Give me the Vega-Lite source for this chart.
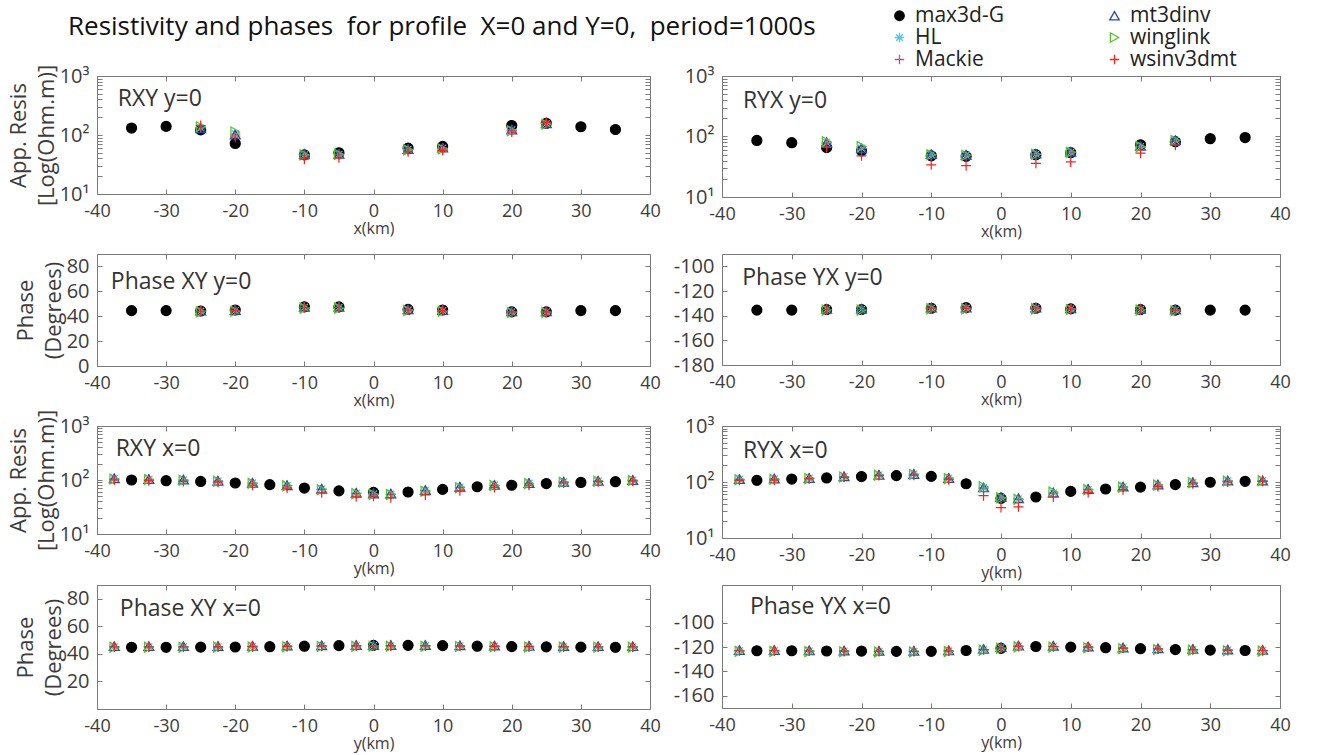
{
"$schema": "https://vega.github.io/schema/vega-lite/v6.json",
"background": "white",
"padding": {"left": 6, "top": 5, "right": 5, "bottom": 5},
"config": {
  "font": "Open Sans",
  "view": {"stroke": "#7a7a7a", "strokeWidth": 1},
  "axis": {"domain": false, "grid": false, "tickColor": "#7a7a7a", "tickSize": -5, "tickWidth": 1, "labelColor": "#3c3c3c", "labelFont": "Open Sans", "labelFontSize": 18, "titleFont": "Open Sans", "titleFontWeight": "normal", "titleColor": "#3c3c3c"},
  "axisX": {"titleFontSize": 16, "titlePadding": 0, "labelFlush": false, "labelPadding": 13},
  "axisY": {"labelFontSize": 20, "titleFontSize": 22, "titleLineHeight": 28, "titlePadding": 1, "labelPadding": 13},
  "legend": {"labelFont": "Open Sans", "labelFontSize": 21, "labelColor": "#222", "symbolSize": 90, "symbolStrokeWidth": 1.3}
},
"datasets": {
 "p1": [
  {"pos": -35, "max3d-G": 131},
  {"pos": -30, "max3d-G": 140},
  {"pos": -25, "max3d-G": 122, "HL": 132, "Mackie": 134, "mt3dinv": 130, "winglink": 138, "wsinv3dmt": 145},
  {"pos": -20, "max3d-G": 72, "HL": 105, "Mackie": 100, "mt3dinv": 102, "winglink": 112, "wsinv3dmt": 92},
  {"pos": -10, "max3d-G": 46, "HL": 46, "Mackie": 45, "mt3dinv": 48, "winglink": 46, "wsinv3dmt": 39},
  {"pos": -5, "max3d-G": 50, "HL": 47, "Mackie": 46, "mt3dinv": 48, "winglink": 47, "wsinv3dmt": 41},
  {"pos": 5, "max3d-G": 60, "HL": 57, "Mackie": 56, "mt3dinv": 58, "winglink": 56, "wsinv3dmt": 52},
  {"pos": 10, "max3d-G": 64, "HL": 60, "Mackie": 58, "mt3dinv": 61, "winglink": 58, "wsinv3dmt": 55},
  {"pos": 20, "max3d-G": 145, "HL": 122, "Mackie": 120, "mt3dinv": 124, "winglink": 118, "wsinv3dmt": 112},
  {"pos": 25, "max3d-G": 158, "HL": 156, "Mackie": 155, "mt3dinv": 157, "winglink": 152, "wsinv3dmt": 164},
  {"pos": 30, "max3d-G": 138},
  {"pos": 35, "max3d-G": 124}
 ],
 "p2": [
  {"pos": -35, "max3d-G": 86},
  {"pos": -30, "max3d-G": 79},
  {"pos": -25, "max3d-G": 66, "HL": 80, "Mackie": 78, "mt3dinv": 80, "winglink": 82, "wsinv3dmt": 66},
  {"pos": -20, "max3d-G": 58, "HL": 64, "Mackie": 63, "mt3dinv": 64, "winglink": 68, "wsinv3dmt": 48},
  {"pos": -10, "max3d-G": 48, "HL": 50, "Mackie": 49, "mt3dinv": 51, "winglink": 50, "wsinv3dmt": 34},
  {"pos": -5, "max3d-G": 47, "HL": 49, "Mackie": 48, "mt3dinv": 50, "winglink": 49, "wsinv3dmt": 33},
  {"pos": 5, "max3d-G": 50, "HL": 51, "Mackie": 50, "mt3dinv": 52, "winglink": 51, "wsinv3dmt": 36},
  {"pos": 10, "max3d-G": 54, "HL": 55, "Mackie": 54, "mt3dinv": 56, "winglink": 55, "wsinv3dmt": 38},
  {"pos": 20, "max3d-G": 73, "HL": 68, "Mackie": 67, "mt3dinv": 70, "winglink": 68, "wsinv3dmt": 53},
  {"pos": 25, "max3d-G": 82, "HL": 86, "Mackie": 85, "mt3dinv": 87, "winglink": 86, "wsinv3dmt": 72},
  {"pos": 30, "max3d-G": 92},
  {"pos": 35, "max3d-G": 96}
 ],
 "p3": [
  {"pos": -35, "max3d-G": 44.5},
  {"pos": -30, "max3d-G": 44.5},
  {"pos": -25, "max3d-G": 44.2, "HL": 44, "Mackie": 44, "mt3dinv": 44.5, "winglink": 43.5, "wsinv3dmt": 44},
  {"pos": -20, "max3d-G": 45, "HL": 44.5, "Mackie": 44.5, "mt3dinv": 45, "winglink": 44, "wsinv3dmt": 44.5},
  {"pos": -10, "max3d-G": 47.5, "HL": 47, "Mackie": 47, "mt3dinv": 47.5, "winglink": 46.5, "wsinv3dmt": 47},
  {"pos": -5, "max3d-G": 47.5, "HL": 47, "Mackie": 47, "mt3dinv": 47.5, "winglink": 46.5, "wsinv3dmt": 47},
  {"pos": 5, "max3d-G": 45.5, "HL": 45, "Mackie": 45, "mt3dinv": 45.5, "winglink": 44.5, "wsinv3dmt": 45},
  {"pos": 10, "max3d-G": 45, "HL": 44.5, "Mackie": 44.5, "mt3dinv": 45, "winglink": 44, "wsinv3dmt": 44.5},
  {"pos": 20, "max3d-G": 43.5, "HL": 43.5, "Mackie": 43.5, "mt3dinv": 44, "winglink": 43, "wsinv3dmt": 43.5},
  {"pos": 25, "max3d-G": 43.5, "HL": 43.5, "Mackie": 43.5, "mt3dinv": 44, "winglink": 43, "wsinv3dmt": 43.5},
  {"pos": 30, "max3d-G": 44.5},
  {"pos": 35, "max3d-G": 44.5}
 ],
 "p4": [
  {"pos": -35, "max3d-G": -135.5},
  {"pos": -30, "max3d-G": -135.5},
  {"pos": -25, "max3d-G": -135, "HL": -135, "Mackie": -135, "mt3dinv": -134.5, "winglink": -135.5, "wsinv3dmt": -135},
  {"pos": -20, "max3d-G": -135, "HL": -135, "Mackie": -135, "mt3dinv": -134.5, "winglink": -135.5, "wsinv3dmt": -135},
  {"pos": -10, "max3d-G": -134, "HL": -134, "Mackie": -134, "mt3dinv": -133.5, "winglink": -134.5, "wsinv3dmt": -134},
  {"pos": -5, "max3d-G": -133.5, "HL": -134, "Mackie": -134, "mt3dinv": -133.5, "winglink": -134.5, "wsinv3dmt": -134},
  {"pos": 5, "max3d-G": -134, "HL": -134, "Mackie": -134, "mt3dinv": -133.5, "winglink": -134.5, "wsinv3dmt": -134},
  {"pos": 10, "max3d-G": -134.5, "HL": -134.5, "Mackie": -134.5, "mt3dinv": -134, "winglink": -135, "wsinv3dmt": -134.5},
  {"pos": 20, "max3d-G": -135, "HL": -135, "Mackie": -135, "mt3dinv": -134.5, "winglink": -135.5, "wsinv3dmt": -135},
  {"pos": 25, "max3d-G": -135.5, "HL": -135.5, "Mackie": -135.5, "mt3dinv": -135, "winglink": -136, "wsinv3dmt": -135.5},
  {"pos": 30, "max3d-G": -135.5},
  {"pos": 35, "max3d-G": -135.5}
 ],
 "p5": [
  {"pos": -37.5, "HL": 106, "Mackie": 104, "mt3dinv": 108, "winglink": 104, "wsinv3dmt": 100},
  {"pos": -35, "max3d-G": 100},
  {"pos": -32.5, "HL": 103, "Mackie": 101, "mt3dinv": 104, "winglink": 102, "wsinv3dmt": 97},
  {"pos": -30, "max3d-G": 97},
  {"pos": -27.5, "HL": 100, "Mackie": 99, "mt3dinv": 102, "winglink": 99, "wsinv3dmt": 94},
  {"pos": -25, "max3d-G": 94},
  {"pos": -22.5, "HL": 96, "Mackie": 95, "mt3dinv": 97, "winglink": 95, "wsinv3dmt": 91},
  {"pos": -20, "max3d-G": 88},
  {"pos": -17.5, "HL": 88, "Mackie": 87, "mt3dinv": 89, "winglink": 87, "wsinv3dmt": 80},
  {"pos": -15, "max3d-G": 82},
  {"pos": -12.5, "HL": 79, "Mackie": 78, "mt3dinv": 80, "winglink": 78, "wsinv3dmt": 71},
  {"pos": -10, "max3d-G": 71},
  {"pos": -7.5, "HL": 68, "Mackie": 67, "mt3dinv": 69, "winglink": 66, "wsinv3dmt": 58},
  {"pos": -5, "max3d-G": 63},
  {"pos": -2.5, "HL": 57, "Mackie": 56, "mt3dinv": 58, "winglink": 56, "wsinv3dmt": 49},
  {"pos": 0, "max3d-G": 59, "HL": 55, "Mackie": 54, "mt3dinv": 56, "winglink": 54, "wsinv3dmt": 50},
  {"pos": 2.5, "HL": 55, "Mackie": 54, "mt3dinv": 56, "winglink": 54, "wsinv3dmt": 47},
  {"pos": 5, "max3d-G": 60},
  {"pos": 7.5, "HL": 64, "Mackie": 63, "mt3dinv": 65, "winglink": 62, "wsinv3dmt": 53},
  {"pos": 10, "max3d-G": 67},
  {"pos": 12.5, "HL": 74, "Mackie": 73, "mt3dinv": 75, "winglink": 72, "wsinv3dmt": 63},
  {"pos": 15, "max3d-G": 75},
  {"pos": 17.5, "HL": 80, "Mackie": 79, "mt3dinv": 81, "winglink": 79, "wsinv3dmt": 73},
  {"pos": 20, "max3d-G": 80},
  {"pos": 22.5, "HL": 87, "Mackie": 86, "mt3dinv": 88, "winglink": 86, "wsinv3dmt": 80},
  {"pos": 25, "max3d-G": 86},
  {"pos": 27.5, "HL": 92, "Mackie": 91, "mt3dinv": 93, "winglink": 91, "wsinv3dmt": 88},
  {"pos": 30, "max3d-G": 90},
  {"pos": 32.5, "HL": 96, "Mackie": 95, "mt3dinv": 97, "winglink": 95, "wsinv3dmt": 93},
  {"pos": 35, "max3d-G": 93},
  {"pos": 37.5, "HL": 99, "Mackie": 98, "mt3dinv": 100, "winglink": 98, "wsinv3dmt": 95}
 ],
 "p6": [
  {"pos": -37.5, "HL": 112, "Mackie": 111, "mt3dinv": 113, "winglink": 110, "wsinv3dmt": 107},
  {"pos": -35, "max3d-G": 107},
  {"pos": -32.5, "HL": 114, "Mackie": 113, "mt3dinv": 115, "winglink": 112, "wsinv3dmt": 108},
  {"pos": -30, "max3d-G": 113},
  {"pos": -27.5, "HL": 117, "Mackie": 116, "mt3dinv": 118, "winglink": 115, "wsinv3dmt": 114},
  {"pos": -25, "max3d-G": 118},
  {"pos": -22.5, "HL": 125, "Mackie": 124, "mt3dinv": 126, "winglink": 123, "wsinv3dmt": 121},
  {"pos": -20, "max3d-G": 125},
  {"pos": -17.5, "HL": 134, "Mackie": 133, "mt3dinv": 135, "winglink": 132, "wsinv3dmt": 130},
  {"pos": -15, "max3d-G": 130},
  {"pos": -12.5, "HL": 138, "Mackie": 137, "mt3dinv": 139, "winglink": 136, "wsinv3dmt": 132},
  {"pos": -10, "max3d-G": 126},
  {"pos": -7.5, "HL": 117, "Mackie": 116, "mt3dinv": 118, "winglink": 115, "wsinv3dmt": 110},
  {"pos": -5, "max3d-G": 93},
  {"pos": -2.5, "HL": 79, "Mackie": 78, "mt3dinv": 80, "winglink": 82, "wsinv3dmt": 57},
  {"pos": 0, "max3d-G": 51, "HL": 53, "Mackie": 52, "mt3dinv": 54, "winglink": 52, "wsinv3dmt": 35},
  {"pos": 2.5, "HL": 50, "Mackie": 49, "mt3dinv": 51, "winglink": 49, "wsinv3dmt": 36},
  {"pos": 5, "max3d-G": 54},
  {"pos": 7.5, "HL": 64, "Mackie": 63, "mt3dinv": 65, "winglink": 66, "wsinv3dmt": 54},
  {"pos": 10, "max3d-G": 68},
  {"pos": 12.5, "HL": 74, "Mackie": 73, "mt3dinv": 75, "winglink": 73, "wsinv3dmt": 65},
  {"pos": 15, "max3d-G": 75},
  {"pos": 17.5, "HL": 82, "Mackie": 81, "mt3dinv": 83, "winglink": 81, "wsinv3dmt": 73},
  {"pos": 20, "max3d-G": 81},
  {"pos": 22.5, "HL": 89, "Mackie": 88, "mt3dinv": 90, "winglink": 88, "wsinv3dmt": 83},
  {"pos": 25, "max3d-G": 90},
  {"pos": 27.5, "HL": 98, "Mackie": 97, "mt3dinv": 99, "winglink": 97, "wsinv3dmt": 93},
  {"pos": 30, "max3d-G": 99},
  {"pos": 32.5, "HL": 105, "Mackie": 104, "mt3dinv": 106, "winglink": 104, "wsinv3dmt": 100},
  {"pos": 35, "max3d-G": 103},
  {"pos": 37.5, "HL": 106, "Mackie": 105, "mt3dinv": 106, "winglink": 105, "wsinv3dmt": 103}
 ],
 "p7": [
  {"pos": -37.5, "HL": 45.2, "Mackie": 45.2, "mt3dinv": 45.6, "winglink": 44.8, "wsinv3dmt": 45},
  {"pos": -35, "max3d-G": 44.8},
  {"pos": -32.5, "HL": 45.2, "Mackie": 45.2, "mt3dinv": 45.6, "winglink": 44.8, "wsinv3dmt": 45},
  {"pos": -30, "max3d-G": 44.8},
  {"pos": -27.5, "HL": 45.2, "Mackie": 45.2, "mt3dinv": 45.6, "winglink": 44.8, "wsinv3dmt": 45},
  {"pos": -25, "max3d-G": 44.9},
  {"pos": -22.5, "HL": 45.3, "Mackie": 45.3, "mt3dinv": 45.7, "winglink": 44.9, "wsinv3dmt": 45.1},
  {"pos": -20, "max3d-G": 45},
  {"pos": -17.5, "HL": 45.4, "Mackie": 45.4, "mt3dinv": 45.8, "winglink": 45, "wsinv3dmt": 45.2},
  {"pos": -15, "max3d-G": 45.2},
  {"pos": -12.5, "HL": 45.6, "Mackie": 45.6, "mt3dinv": 46, "winglink": 45.2, "wsinv3dmt": 45.4},
  {"pos": -10, "max3d-G": 45.6},
  {"pos": -7.5, "HL": 45.8, "Mackie": 45.8, "mt3dinv": 46.2, "winglink": 45.4, "wsinv3dmt": 45.6},
  {"pos": -5, "max3d-G": 46},
  {"pos": -2.5, "HL": 46, "Mackie": 46, "mt3dinv": 46.4, "winglink": 45.6, "wsinv3dmt": 45.8},
  {"pos": 0, "max3d-G": 46.2, "HL": 46, "Mackie": 46, "mt3dinv": 46.4, "winglink": 45.6, "wsinv3dmt": 45.8},
  {"pos": 2.5, "HL": 46, "Mackie": 46, "mt3dinv": 46.4, "winglink": 45.6, "wsinv3dmt": 45.8},
  {"pos": 5, "max3d-G": 46.2},
  {"pos": 7.5, "HL": 46, "Mackie": 46, "mt3dinv": 46.4, "winglink": 45.6, "wsinv3dmt": 45.8},
  {"pos": 10, "max3d-G": 46},
  {"pos": 12.5, "HL": 45.8, "Mackie": 45.8, "mt3dinv": 46.2, "winglink": 45.4, "wsinv3dmt": 45.6},
  {"pos": 15, "max3d-G": 45.6},
  {"pos": 17.5, "HL": 45.6, "Mackie": 45.6, "mt3dinv": 46, "winglink": 45.2, "wsinv3dmt": 45.4},
  {"pos": 20, "max3d-G": 45.3},
  {"pos": 22.5, "HL": 45.4, "Mackie": 45.4, "mt3dinv": 45.8, "winglink": 45, "wsinv3dmt": 45.2},
  {"pos": 25, "max3d-G": 45.1},
  {"pos": 27.5, "HL": 45.3, "Mackie": 45.3, "mt3dinv": 45.7, "winglink": 44.9, "wsinv3dmt": 45.1},
  {"pos": 30, "max3d-G": 44.9},
  {"pos": 32.5, "HL": 45.2, "Mackie": 45.2, "mt3dinv": 45.6, "winglink": 44.8, "wsinv3dmt": 45},
  {"pos": 35, "max3d-G": 44.8},
  {"pos": 37.5, "HL": 45.2, "Mackie": 45.2, "mt3dinv": 45.6, "winglink": 44.8, "wsinv3dmt": 45}
 ],
 "p8": [
  {"pos": -37.5, "HL": -123, "Mackie": -123, "mt3dinv": -122.5, "winglink": -123.5, "wsinv3dmt": -123},
  {"pos": -35, "max3d-G": -123},
  {"pos": -32.5, "HL": -123, "Mackie": -123, "mt3dinv": -122.5, "winglink": -123.5, "wsinv3dmt": -123},
  {"pos": -30, "max3d-G": -123},
  {"pos": -27.5, "HL": -123.2, "Mackie": -123.2, "mt3dinv": -122.7, "winglink": -123.7, "wsinv3dmt": -123.2},
  {"pos": -25, "max3d-G": -123.2},
  {"pos": -22.5, "HL": -123.3, "Mackie": -123.3, "mt3dinv": -122.8, "winglink": -123.8, "wsinv3dmt": -123.3},
  {"pos": -20, "max3d-G": -123.3},
  {"pos": -17.5, "HL": -123.5, "Mackie": -123.5, "mt3dinv": -123, "winglink": -124, "wsinv3dmt": -123.5},
  {"pos": -15, "max3d-G": -123.5},
  {"pos": -12.5, "HL": -123.5, "Mackie": -123.5, "mt3dinv": -123, "winglink": -124, "wsinv3dmt": -123.5},
  {"pos": -10, "max3d-G": -123.5},
  {"pos": -7.5, "HL": -123.2, "Mackie": -123.2, "mt3dinv": -122.7, "winglink": -123.7, "wsinv3dmt": -123.2},
  {"pos": -5, "max3d-G": -122.8},
  {"pos": -2.5, "HL": -122, "Mackie": -122, "mt3dinv": -121.5, "winglink": -122.5, "wsinv3dmt": -122},
  {"pos": 0, "max3d-G": -121, "HL": -120.5, "Mackie": -120.5, "mt3dinv": -120, "winglink": -121, "wsinv3dmt": -120.5},
  {"pos": 2.5, "HL": -119.3, "Mackie": -119.3, "mt3dinv": -118.8, "winglink": -119.8, "wsinv3dmt": -119.3},
  {"pos": 5, "max3d-G": -119.5},
  {"pos": 7.5, "HL": -119.5, "Mackie": -119.5, "mt3dinv": -119, "winglink": -120, "wsinv3dmt": -119.5},
  {"pos": 10, "max3d-G": -120},
  {"pos": 12.5, "HL": -120, "Mackie": -120, "mt3dinv": -119.5, "winglink": -120.5, "wsinv3dmt": -120},
  {"pos": 15, "max3d-G": -120.5},
  {"pos": 17.5, "HL": -120.8, "Mackie": -120.8, "mt3dinv": -120.3, "winglink": -121.3, "wsinv3dmt": -120.8},
  {"pos": 20, "max3d-G": -121.3},
  {"pos": 22.5, "HL": -121.5, "Mackie": -121.5, "mt3dinv": -121, "winglink": -122, "wsinv3dmt": -121.5},
  {"pos": 25, "max3d-G": -122},
  {"pos": 27.5, "HL": -122, "Mackie": -122, "mt3dinv": -121.5, "winglink": -122.5, "wsinv3dmt": -122},
  {"pos": 30, "max3d-G": -122.5},
  {"pos": 32.5, "HL": -122.5, "Mackie": -122.5, "mt3dinv": -122, "winglink": -123, "wsinv3dmt": -122.5},
  {"pos": 35, "max3d-G": -122.8},
  {"pos": 37.5, "HL": -122.8, "Mackie": -122.8, "mt3dinv": -122.3, "winglink": -123.3, "wsinv3dmt": -122.8}
 ]
},
"columns": 2,
"bounds": "flush",
"spacing": {"row": 0, "column": 72},
"concat": [
  {"width": 553, "height": 118,
   "title": {"text": "Resistivity and phases \u00a0for profile \u00a0X=0 and Y=0, \u00a0period=1000s", "anchor": "start", "frame": "group", "fontSize": 26, "fontWeight": "normal", "color": "#111", "dx": -29, "offset": 24, "font": "Open Sans"},
   "data": {"name": "p1"},
   "layer": [
    {"transform": [{"fold": ["max3d-G", "HL", "Mackie", "mt3dinv", "winglink", "wsinv3dmt"], "as": ["model", "val"]}, {"filter": "isValid(datum.val)"}],
     "mark": {"type": "point", "filled": false, "size": 100, "strokeWidth": 1.2, "opacity": 1},
     "encoding": {
      "x": {"field": "pos", "type": "quantitative", "scale": {"domain": [-40, 40], "nice": false, "zero": false}, "axis": {"values": [-40, -30, -20, -10, 0, 10, 20, 30, 40], "title": "x(km)", "labelExpr": "'' + datum.value"}},
      "y": {"field": "val", "type": "quantitative", "scale": {"type": "log", "domain": [10, 1000], "nice": false}, "axis": {"values": [10, 20, 30, 40, 50, 60, 70, 80, 90, 100, 200, 300, 400, 500, 600, 700, 800, 900, 1000], "labelExpr": "datum.value == 10 ? '10¹' : datum.value == 100 ? '10²' : datum.value == 1000 ? '10³' : ''", "labelOverlap": false, "title": ["App. Resis", "[Log(Ohm.m)]"]}},
      "color": {"field": "model", "type": "nominal", "scale": {"domain": ["max3d-G", "HL", "Mackie", "mt3dinv", "winglink", "wsinv3dmt"], "range": ["#000000", "#4cc8e0", "#a854a8", "#2b46b5", "#58c02c", "#ff1f1f"]}, "legend": {"orient": "none", "legendX": 792, "legendY": -71, "columns": 2, "title": null, "columnPadding": 100, "rowPadding": 0, "labelOffset": 5}},
      "fill": {"field": "model", "type": "nominal", "scale": {"domain": ["max3d-G", "HL", "Mackie", "mt3dinv", "winglink", "wsinv3dmt"], "range": ["#000000", "transparent", "transparent", "transparent", "transparent", "transparent"]}},
      "shape": {"field": "model", "type": "nominal", "scale": {"domain": ["max3d-G", "HL", "Mackie", "mt3dinv", "winglink", "wsinv3dmt"], "range": ["circle", "M-1,0L1,0M0,-1L0,1M-0.7,-0.7L0.7,0.7M-0.7,0.7L0.7,-0.7", "M-1,0L1,0M0,-1L0,1", "triangle-up", "triangle-right", "M-1,0L1,0M0,-1L0,1"]}}
     }},
    {"data": {"values": [{"label": "RXY y=0"}]},
     "mark": {"type": "text", "align": "left", "baseline": "middle", "fontSize": 23, "color": "#333"},
     "encoding": {
      "x": {"datum": -37, "type": "quantitative", "scale": {"domain": [-40, 40], "nice": false, "zero": false}, "axis": {"orient": "top", "values": [-40, -30, -20, -10, 0, 10, 20, 30, 40], "labels": false, "title": null}},
      "y": {"datum": 404, "type": "quantitative", "scale": {"type": "log", "domain": [10, 1000], "nice": false}, "axis": {"orient": "right", "values": [10, 20, 30, 40, 50, 60, 70, 80, 90, 100, 200, 300, 400, 500, 600, 700, 800, 900, 1000], "labels": false, "title": null}},
      "text": {"field": "label", "type": "nominal"}
     }}
   ],
   "resolve": {"axis": {"x": "independent", "y": "independent"}}
  },
  {"width": 558, "height": 121,
   "data": {"name": "p2"},
   "layer": [
    {"transform": [{"fold": ["max3d-G", "HL", "Mackie", "mt3dinv", "winglink", "wsinv3dmt"], "as": ["model", "val"]}, {"filter": "isValid(datum.val)"}],
     "mark": {"type": "point", "filled": false, "size": 100, "strokeWidth": 1.2, "opacity": 1},
     "encoding": {
      "x": {"field": "pos", "type": "quantitative", "scale": {"domain": [-40, 40], "nice": false, "zero": false}, "axis": {"values": [-40, -30, -20, -10, 0, 10, 20, 30, 40], "title": "x(km)", "labelExpr": "'' + datum.value"}},
      "y": {"field": "val", "type": "quantitative", "scale": {"type": "log", "domain": [10, 1000], "nice": false}, "axis": {"values": [10, 20, 30, 40, 50, 60, 70, 80, 90, 100, 200, 300, 400, 500, 600, 700, 800, 900, 1000], "labelExpr": "datum.value == 10 ? '10¹' : datum.value == 100 ? '10²' : datum.value == 1000 ? '10³' : ''", "labelOverlap": false, "title": null}},
      "color": {"field": "model", "type": "nominal", "scale": {"domain": ["max3d-G", "HL", "Mackie", "mt3dinv", "winglink", "wsinv3dmt"], "range": ["#000000", "#4cc8e0", "#a854a8", "#2b46b5", "#58c02c", "#ff1f1f"]}},
      "fill": {"field": "model", "type": "nominal", "scale": {"domain": ["max3d-G", "HL", "Mackie", "mt3dinv", "winglink", "wsinv3dmt"], "range": ["#000000", "transparent", "transparent", "transparent", "transparent", "transparent"]}},
      "shape": {"field": "model", "type": "nominal", "scale": {"domain": ["max3d-G", "HL", "Mackie", "mt3dinv", "winglink", "wsinv3dmt"], "range": ["circle", "M-1,0L1,0M0,-1L0,1M-0.7,-0.7L0.7,0.7M-0.7,0.7L0.7,-0.7", "M-1,0L1,0M0,-1L0,1", "triangle-up", "triangle-right", "M-1,0L1,0M0,-1L0,1"]}}
     }},
    {"data": {"values": [{"label": "RYX y=0"}]},
     "mark": {"type": "text", "align": "left", "baseline": "middle", "fontSize": 23, "color": "#333"},
     "encoding": {
      "x": {"datum": -37, "type": "quantitative", "scale": {"domain": [-40, 40], "nice": false, "zero": false}, "axis": {"orient": "top", "values": [-40, -30, -20, -10, 0, 10, 20, 30, 40], "labels": false, "title": null}},
      "y": {"datum": 390, "type": "quantitative", "scale": {"type": "log", "domain": [10, 1000], "nice": false}, "axis": {"orient": "right", "values": [10, 20, 30, 40, 50, 60, 70, 80, 90, 100, 200, 300, 400, 500, 600, 700, 800, 900, 1000], "labels": false, "title": null}},
      "text": {"field": "label", "type": "nominal"}
     }}
   ],
   "resolve": {"axis": {"x": "independent", "y": "independent"}}
  },
  {"width": 553, "height": 57, "data": {"values": []}, "mark": {"type": "point"}, "encoding": {}, "view": {"stroke": null}},
  {"width": 558, "height": 57, "data": {"values": []}, "mark": {"type": "point"}, "encoding": {}, "view": {"stroke": null}},
  {"width": 553, "height": 112,
   "data": {"name": "p3"},
   "layer": [
    {"transform": [{"fold": ["max3d-G", "HL", "Mackie", "mt3dinv", "winglink", "wsinv3dmt"], "as": ["model", "val"]}, {"filter": "isValid(datum.val)"}],
     "mark": {"type": "point", "filled": false, "size": 100, "strokeWidth": 1.2, "opacity": 1},
     "encoding": {
      "x": {"field": "pos", "type": "quantitative", "scale": {"domain": [-40, 40], "nice": false, "zero": false}, "axis": {"values": [-40, -30, -20, -10, 0, 10, 20, 30, 40], "title": "x(km)", "labelExpr": "'' + datum.value"}},
      "y": {"field": "val", "type": "quantitative", "scale": {"domain": [0, 90], "nice": false, "zero": false}, "axis": {"values": [0, 20, 40, 60, 80], "labelExpr": "'' + datum.value", "title": ["Phase", "(Degrees)"]}},
      "color": {"field": "model", "type": "nominal", "scale": {"domain": ["max3d-G", "HL", "Mackie", "mt3dinv", "winglink", "wsinv3dmt"], "range": ["#000000", "#4cc8e0", "#a854a8", "#2b46b5", "#58c02c", "#ff1f1f"]}},
      "fill": {"field": "model", "type": "nominal", "scale": {"domain": ["max3d-G", "HL", "Mackie", "mt3dinv", "winglink", "wsinv3dmt"], "range": ["#000000", "transparent", "transparent", "transparent", "transparent", "transparent"]}},
      "shape": {"field": "model", "type": "nominal", "scale": {"domain": ["max3d-G", "HL", "Mackie", "mt3dinv", "winglink", "wsinv3dmt"], "range": ["circle", "M-1,0L1,0M0,-1L0,1M-0.7,-0.7L0.7,0.7M-0.7,0.7L0.7,-0.7", "M-1,0L1,0M0,-1L0,1", "triangle-up", "triangle-right", "M-1,0L1,0M0,-1L0,1"]}}
     }},
    {"data": {"values": [{"label": "Phase XY y=0"}]},
     "mark": {"type": "text", "align": "left", "baseline": "middle", "fontSize": 23, "color": "#333"},
     "encoding": {
      "x": {"datum": -38, "type": "quantitative", "scale": {"domain": [-40, 40], "nice": false, "zero": false}, "axis": {"orient": "top", "values": [-40, -30, -20, -10, 0, 10, 20, 30, 40], "labels": false, "title": null}},
      "y": {"datum": 67.5, "type": "quantitative", "scale": {"domain": [0, 90], "nice": false, "zero": false}, "axis": {"orient": "right", "values": [0, 20, 40, 60, 80], "labels": false, "title": null}},
      "text": {"field": "label", "type": "nominal"}
     }}
   ],
   "resolve": {"axis": {"x": "independent", "y": "independent"}}
  },
  {"width": 558, "height": 111,
   "data": {"name": "p4"},
   "layer": [
    {"transform": [{"fold": ["max3d-G", "HL", "Mackie", "mt3dinv", "winglink", "wsinv3dmt"], "as": ["model", "val"]}, {"filter": "isValid(datum.val)"}],
     "mark": {"type": "point", "filled": false, "size": 100, "strokeWidth": 1.2, "opacity": 1},
     "encoding": {
      "x": {"field": "pos", "type": "quantitative", "scale": {"domain": [-40, 40], "nice": false, "zero": false}, "axis": {"values": [-40, -30, -20, -10, 0, 10, 20, 30, 40], "title": "x(km)", "labelExpr": "'' + datum.value"}},
      "y": {"field": "val", "type": "quantitative", "scale": {"domain": [-180, -90], "nice": false, "zero": false}, "axis": {"values": [-180, -160, -140, -120, -100], "labelExpr": "'' + datum.value", "title": null}},
      "color": {"field": "model", "type": "nominal", "scale": {"domain": ["max3d-G", "HL", "Mackie", "mt3dinv", "winglink", "wsinv3dmt"], "range": ["#000000", "#4cc8e0", "#a854a8", "#2b46b5", "#58c02c", "#ff1f1f"]}},
      "fill": {"field": "model", "type": "nominal", "scale": {"domain": ["max3d-G", "HL", "Mackie", "mt3dinv", "winglink", "wsinv3dmt"], "range": ["#000000", "transparent", "transparent", "transparent", "transparent", "transparent"]}},
      "shape": {"field": "model", "type": "nominal", "scale": {"domain": ["max3d-G", "HL", "Mackie", "mt3dinv", "winglink", "wsinv3dmt"], "range": ["circle", "M-1,0L1,0M0,-1L0,1M-0.7,-0.7L0.7,0.7M-0.7,0.7L0.7,-0.7", "M-1,0L1,0M0,-1L0,1", "triangle-up", "triangle-right", "M-1,0L1,0M0,-1L0,1"]}}
     }},
    {"data": {"values": [{"label": "Phase YX y=0"}]},
     "mark": {"type": "text", "align": "left", "baseline": "middle", "fontSize": 23, "color": "#333"},
     "encoding": {
      "x": {"datum": -37.1, "type": "quantitative", "scale": {"domain": [-40, 40], "nice": false, "zero": false}, "axis": {"orient": "top", "values": [-40, -30, -20, -10, 0, 10, 20, 30, 40], "labels": false, "title": null}},
      "y": {"datum": -109.5, "type": "quantitative", "scale": {"domain": [-180, -90], "nice": false, "zero": false}, "axis": {"orient": "right", "values": [-180, -160, -140, -120, -100], "labels": false, "title": null}},
      "text": {"field": "label", "type": "nominal"}
     }}
   ],
   "resolve": {"axis": {"x": "independent", "y": "independent"}}
  },
  {"width": 553, "height": 60, "data": {"values": []}, "mark": {"type": "point"}, "encoding": {}, "view": {"stroke": null}},
  {"width": 558, "height": 60, "data": {"values": []}, "mark": {"type": "point"}, "encoding": {}, "view": {"stroke": null}},
  {"width": 553, "height": 108,
   "data": {"name": "p5"},
   "layer": [
    {"transform": [{"fold": ["max3d-G", "HL", "Mackie", "mt3dinv", "winglink", "wsinv3dmt"], "as": ["model", "val"]}, {"filter": "isValid(datum.val)"}],
     "mark": {"type": "point", "filled": false, "size": 100, "strokeWidth": 1.2, "opacity": 1},
     "encoding": {
      "x": {"field": "pos", "type": "quantitative", "scale": {"domain": [-40, 40], "nice": false, "zero": false}, "axis": {"values": [-40, -30, -20, -10, 0, 10, 20, 30, 40], "title": "y(km)", "labelExpr": "'' + datum.value"}},
      "y": {"field": "val", "type": "quantitative", "scale": {"type": "log", "domain": [10, 1000], "nice": false}, "axis": {"values": [10, 20, 30, 40, 50, 60, 70, 80, 90, 100, 200, 300, 400, 500, 600, 700, 800, 900, 1000], "labelExpr": "datum.value == 10 ? '10¹' : datum.value == 100 ? '10²' : datum.value == 1000 ? '10³' : ''", "labelOverlap": false, "title": ["App. Resis", "[Log(Ohm.m)]"]}},
      "color": {"field": "model", "type": "nominal", "scale": {"domain": ["max3d-G", "HL", "Mackie", "mt3dinv", "winglink", "wsinv3dmt"], "range": ["#000000", "#4cc8e0", "#a854a8", "#2b46b5", "#58c02c", "#ff1f1f"]}},
      "fill": {"field": "model", "type": "nominal", "scale": {"domain": ["max3d-G", "HL", "Mackie", "mt3dinv", "winglink", "wsinv3dmt"], "range": ["#000000", "transparent", "transparent", "transparent", "transparent", "transparent"]}},
      "shape": {"field": "model", "type": "nominal", "scale": {"domain": ["max3d-G", "HL", "Mackie", "mt3dinv", "winglink", "wsinv3dmt"], "range": ["circle", "M-1,0L1,0M0,-1L0,1M-0.7,-0.7L0.7,0.7M-0.7,0.7L0.7,-0.7", "M-1,0L1,0M0,-1L0,1", "triangle-up", "triangle-right", "M-1,0L1,0M0,-1L0,1"]}}
     }},
    {"data": {"values": [{"label": "RXY x=0"}]},
     "mark": {"type": "text", "align": "left", "baseline": "middle", "fontSize": 23, "color": "#333"},
     "encoding": {
      "x": {"datum": -37.3, "type": "quantitative", "scale": {"domain": [-40, 40], "nice": false, "zero": false}, "axis": {"orient": "top", "values": [-40, -30, -20, -10, 0, 10, 20, 30, 40], "labels": false, "title": null}},
      "y": {"datum": 372, "type": "quantitative", "scale": {"type": "log", "domain": [10, 1000], "nice": false}, "axis": {"orient": "right", "values": [10, 20, 30, 40, 50, 60, 70, 80, 90, 100, 200, 300, 400, 500, 600, 700, 800, 900, 1000], "labels": false, "title": null}},
      "text": {"field": "label", "type": "nominal"}
     }}
   ],
   "resolve": {"axis": {"x": "independent", "y": "independent"}}
  },
  {"width": 558, "height": 112,
   "data": {"name": "p6"},
   "layer": [
    {"transform": [{"fold": ["max3d-G", "HL", "Mackie", "mt3dinv", "winglink", "wsinv3dmt"], "as": ["model", "val"]}, {"filter": "isValid(datum.val)"}],
     "mark": {"type": "point", "filled": false, "size": 100, "strokeWidth": 1.2, "opacity": 1},
     "encoding": {
      "x": {"field": "pos", "type": "quantitative", "scale": {"domain": [-40, 40], "nice": false, "zero": false}, "axis": {"values": [-40, -30, -20, -10, 0, 10, 20, 30, 40], "title": "y(km)", "labelExpr": "'' + datum.value"}},
      "y": {"field": "val", "type": "quantitative", "scale": {"type": "log", "domain": [10, 1000], "nice": false}, "axis": {"values": [10, 20, 30, 40, 50, 60, 70, 80, 90, 100, 200, 300, 400, 500, 600, 700, 800, 900, 1000], "labelExpr": "datum.value == 10 ? '10¹' : datum.value == 100 ? '10²' : datum.value == 1000 ? '10³' : ''", "labelOverlap": false, "title": null}},
      "color": {"field": "model", "type": "nominal", "scale": {"domain": ["max3d-G", "HL", "Mackie", "mt3dinv", "winglink", "wsinv3dmt"], "range": ["#000000", "#4cc8e0", "#a854a8", "#2b46b5", "#58c02c", "#ff1f1f"]}},
      "fill": {"field": "model", "type": "nominal", "scale": {"domain": ["max3d-G", "HL", "Mackie", "mt3dinv", "winglink", "wsinv3dmt"], "range": ["#000000", "transparent", "transparent", "transparent", "transparent", "transparent"]}},
      "shape": {"field": "model", "type": "nominal", "scale": {"domain": ["max3d-G", "HL", "Mackie", "mt3dinv", "winglink", "wsinv3dmt"], "range": ["circle", "M-1,0L1,0M0,-1L0,1M-0.7,-0.7L0.7,0.7M-0.7,0.7L0.7,-0.7", "M-1,0L1,0M0,-1L0,1", "triangle-up", "triangle-right", "M-1,0L1,0M0,-1L0,1"]}}
     }},
    {"data": {"values": [{"label": "RYX x=0"}]},
     "mark": {"type": "text", "align": "left", "baseline": "middle", "fontSize": 23, "color": "#333"},
     "encoding": {
      "x": {"datum": -37, "type": "quantitative", "scale": {"domain": [-40, 40], "nice": false, "zero": false}, "axis": {"orient": "top", "values": [-40, -30, -20, -10, 0, 10, 20, 30, 40], "labels": false, "title": null}},
      "y": {"datum": 363, "type": "quantitative", "scale": {"type": "log", "domain": [10, 1000], "nice": false}, "axis": {"orient": "right", "values": [10, 20, 30, 40, 50, 60, 70, 80, 90, 100, 200, 300, 400, 500, 600, 700, 800, 900, 1000], "labels": false, "title": null}},
      "text": {"field": "label", "type": "nominal"}
     }}
   ],
   "resolve": {"axis": {"x": "independent", "y": "independent"}}
  },
  {"width": 553, "height": 47, "data": {"values": []}, "mark": {"type": "point"}, "encoding": {}, "view": {"stroke": null}},
  {"width": 558, "height": 47, "data": {"values": []}, "mark": {"type": "point"}, "encoding": {}, "view": {"stroke": null}},
  {"width": 553, "height": 124,
   "data": {"name": "p7"},
   "layer": [
    {"transform": [{"fold": ["max3d-G", "HL", "Mackie", "mt3dinv", "winglink", "wsinv3dmt"], "as": ["model", "val"]}, {"filter": "isValid(datum.val)"}],
     "mark": {"type": "point", "filled": false, "size": 100, "strokeWidth": 1.2, "opacity": 1},
     "encoding": {
      "x": {"field": "pos", "type": "quantitative", "scale": {"domain": [-40, 40], "nice": false, "zero": false}, "axis": {"values": [-40, -30, -20, -10, 0, 10, 20, 30, 40], "title": "y(km)", "labelExpr": "'' + datum.value"}},
      "y": {"field": "val", "type": "quantitative", "scale": {"domain": [0, 90], "nice": false, "zero": false}, "axis": {"values": [20, 40, 60, 80], "labelExpr": "'' + datum.value", "title": ["Phase", "(Degrees)"]}},
      "color": {"field": "model", "type": "nominal", "scale": {"domain": ["max3d-G", "HL", "Mackie", "mt3dinv", "winglink", "wsinv3dmt"], "range": ["#000000", "#4cc8e0", "#a854a8", "#2b46b5", "#58c02c", "#ff1f1f"]}},
      "fill": {"field": "model", "type": "nominal", "scale": {"domain": ["max3d-G", "HL", "Mackie", "mt3dinv", "winglink", "wsinv3dmt"], "range": ["#000000", "transparent", "transparent", "transparent", "transparent", "transparent"]}},
      "shape": {"field": "model", "type": "nominal", "scale": {"domain": ["max3d-G", "HL", "Mackie", "mt3dinv", "winglink", "wsinv3dmt"], "range": ["circle", "M-1,0L1,0M0,-1L0,1M-0.7,-0.7L0.7,0.7M-0.7,0.7L0.7,-0.7", "M-1,0L1,0M0,-1L0,1", "triangle-up", "triangle-right", "M-1,0L1,0M0,-1L0,1"]}}
     }},
    {"data": {"values": [{"label": "Phase XY x=0"}]},
     "mark": {"type": "text", "align": "left", "baseline": "middle", "fontSize": 23, "color": "#333"},
     "encoding": {
      "x": {"datum": -36.7, "type": "quantitative", "scale": {"domain": [-40, 40], "nice": false, "zero": false}, "axis": {"orient": "top", "values": [-40, -30, -20, -10, 0, 10, 20, 30, 40], "labels": false, "title": null}},
      "y": {"datum": 72.6, "type": "quantitative", "scale": {"domain": [0, 90], "nice": false, "zero": false}, "axis": {"orient": "right", "values": [20, 40, 60, 80], "labels": false, "title": null}},
      "text": {"field": "label", "type": "nominal"}
     }}
   ],
   "resolve": {"axis": {"x": "independent", "y": "independent"}}
  },
  {"width": 558, "height": 123,
   "data": {"name": "p8"},
   "layer": [
    {"transform": [{"fold": ["max3d-G", "HL", "Mackie", "mt3dinv", "winglink", "wsinv3dmt"], "as": ["model", "val"]}, {"filter": "isValid(datum.val)"}],
     "mark": {"type": "point", "filled": false, "size": 100, "strokeWidth": 1.2, "opacity": 1},
     "encoding": {
      "x": {"field": "pos", "type": "quantitative", "scale": {"domain": [-40, 40], "nice": false, "zero": false}, "axis": {"values": [-40, -30, -20, -10, 0, 10, 20, 30, 40], "title": "y(km)", "labelExpr": "'' + datum.value"}},
      "y": {"field": "val", "type": "quantitative", "scale": {"domain": [-170, -69], "nice": false, "zero": false}, "axis": {"values": [-160, -140, -120, -100], "labelExpr": "'' + datum.value", "title": null}},
      "color": {"field": "model", "type": "nominal", "scale": {"domain": ["max3d-G", "HL", "Mackie", "mt3dinv", "winglink", "wsinv3dmt"], "range": ["#000000", "#4cc8e0", "#a854a8", "#2b46b5", "#58c02c", "#ff1f1f"]}},
      "fill": {"field": "model", "type": "nominal", "scale": {"domain": ["max3d-G", "HL", "Mackie", "mt3dinv", "winglink", "wsinv3dmt"], "range": ["#000000", "transparent", "transparent", "transparent", "transparent", "transparent"]}},
      "shape": {"field": "model", "type": "nominal", "scale": {"domain": ["max3d-G", "HL", "Mackie", "mt3dinv", "winglink", "wsinv3dmt"], "range": ["circle", "M-1,0L1,0M0,-1L0,1M-0.7,-0.7L0.7,0.7M-0.7,0.7L0.7,-0.7", "M-1,0L1,0M0,-1L0,1", "triangle-up", "triangle-right", "M-1,0L1,0M0,-1L0,1"]}}
     }},
    {"data": {"values": [{"label": "Phase YX x=0"}]},
     "mark": {"type": "text", "align": "left", "baseline": "middle", "fontSize": 23, "color": "#333"},
     "encoding": {
      "x": {"datum": -36, "type": "quantitative", "scale": {"domain": [-40, 40], "nice": false, "zero": false}, "axis": {"orient": "top", "values": [-40, -30, -20, -10, 0, 10, 20, 30, 40], "labels": false, "title": null}},
      "y": {"datum": -87, "type": "quantitative", "scale": {"domain": [-170, -69], "nice": false, "zero": false}, "axis": {"orient": "right", "values": [-160, -140, -120, -100], "labels": false, "title": null}},
      "text": {"field": "label", "type": "nominal"}
     }}
   ],
   "resolve": {"axis": {"x": "independent", "y": "independent"}}
  }
]
}
